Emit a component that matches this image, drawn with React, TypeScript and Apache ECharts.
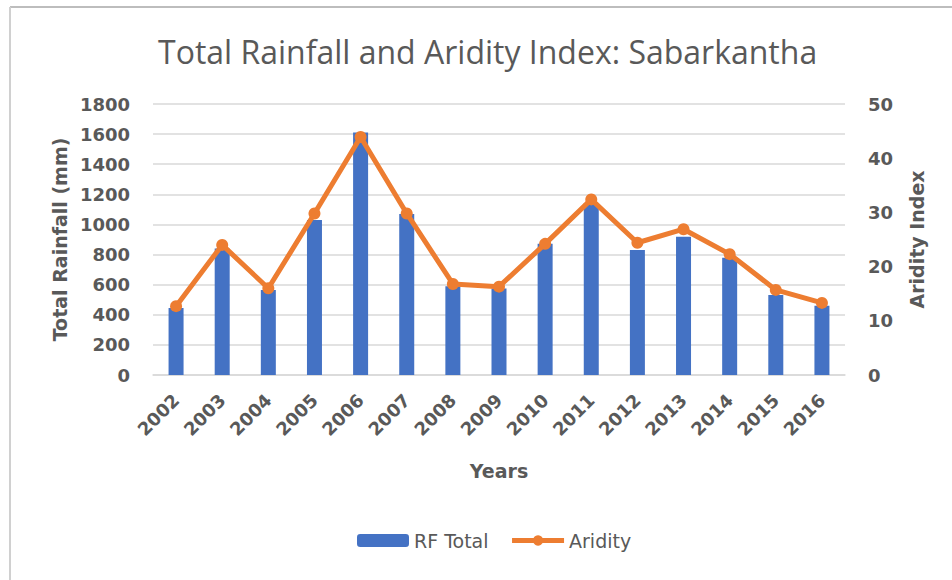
import React, { useEffect, useRef } from "react";
import * as echarts from "echarts";

const years = ["2002","2003","2004","2005","2006","2007","2008","2009","2010","2011","2012","2013","2014","2015","2016"];
const rfTotal = [445, 840, 565, 1030, 1610, 1070, 590, 575, 872, 1140, 830, 918, 778, 532, 460];
const aridity = [12.7, 24.0, 16.0, 29.8, 43.9, 29.8, 16.8, 16.3, 24.2, 32.4, 24.4, 26.9, 22.3, 15.7, 13.3];

const GREY = "#595959";
const FONT = "DejaVu Sans";

export default function App() {
  const ref = useRef<HTMLDivElement>(null);
  useEffect(() => {
    if (!ref.current) return;
    const chart = echarts.init(ref.current, undefined, { renderer: "svg" });
    chart.setOption({
      animation: false,
      backgroundColor: "#ffffff",
      title: {
        text: "Total Rainfall and Aridity Index: Sabarkantha",
        left: 153,
        top: 30,
        textStyle: { fontFamily: "Open Sans", fontWeight: "normal", fontSize: 32, color: GREY },
      },
      graphic: [
        { type: "line", shape: { x1: 10, y1: 7, x2: 952, y2: 7 }, style: { stroke: "#bdbdbd", lineWidth: 2 } },
        { type: "line", shape: { x1: 10, y1: 7, x2: 10, y2: 580 }, style: { stroke: "#d0d0d0", lineWidth: 2 } },
      ],
      legend: {
        bottom: 25,
        left: 352,
        itemWidth: 52,
        itemHeight: 13,
        itemGap: 21,
        lineStyle: { width: 5 },
        textStyle: { fontFamily: FONT, fontSize: 19, color: GREY },
        data: ["RF Total", "Aridity"],
      },
      grid: { left: 153, right: 107, top: 104, bottom: 205 },
      xAxis: {
        type: "category",
        data: years,
        name: "Years",
        nameLocation: "middle",
        nameGap: 86,
        nameTextStyle: { fontFamily: FONT, fontWeight: "bold", fontSize: 19, color: GREY },
        axisTick: { show: false },
        axisLine: { lineStyle: { color: "#d9d9d9", width: 1.5 } },
        axisLabel: { rotate: 45, margin: 22, fontFamily: FONT, fontWeight: "bold", fontSize: 18, color: GREY },
      },
      yAxis: [
        {
          type: "value",
          min: 0,
          max: 1800,
          interval: 200,
          name: "Total Rainfall (mm)",
          nameLocation: "middle",
          nameGap: 82,
          nameRotate: 90,
          nameTextStyle: { fontFamily: FONT, fontWeight: "bold", fontSize: 19, color: GREY },
          axisLine: { show: false },
          axisTick: { show: false },
          splitLine: { lineStyle: { color: "#d9d9d9", width: 1.5 } },
          axisLabel: {
            margin: 23,
            fontFamily: FONT,
            fontWeight: "bold",
            fontSize: 18,
            color: GREY,
            formatter: (v: number) => String(v),
          },
        },
        {
          type: "value",
          min: 0,
          max: 50,
          interval: 10,
          name: "Aridity Index",
          nameLocation: "middle",
          nameGap: 62,
          nameRotate: 90,
          nameTextStyle: { fontFamily: FONT, fontWeight: "bold", fontSize: 19, color: GREY },
          axisLine: { show: false },
          axisTick: { show: false },
          splitLine: { show: false },
          axisLabel: { margin: 23, fontFamily: FONT, fontWeight: "bold", fontSize: 18, color: GREY },
        },
      ],
      series: [
        {
          name: "RF Total",
          type: "bar",
          data: rfTotal,
          barWidth: 15,
          itemStyle: { color: "#4472C4" },
        },
        {
          name: "Aridity",
          type: "line",
          yAxisIndex: 1,
          data: aridity,
          symbol: "circle",
          symbolSize: 12,
          lineStyle: { color: "#ED7D31", width: 5 },
          itemStyle: { color: "#ED7D31" },
        },
      ],
    });
    return () => chart.dispose();
  }, []);
  return (
    <div
      ref={ref}
      style={{ position: "absolute", left: 0, top: 0, width: 952, height: 580, background: "#fff" }}
    />
  );
}
